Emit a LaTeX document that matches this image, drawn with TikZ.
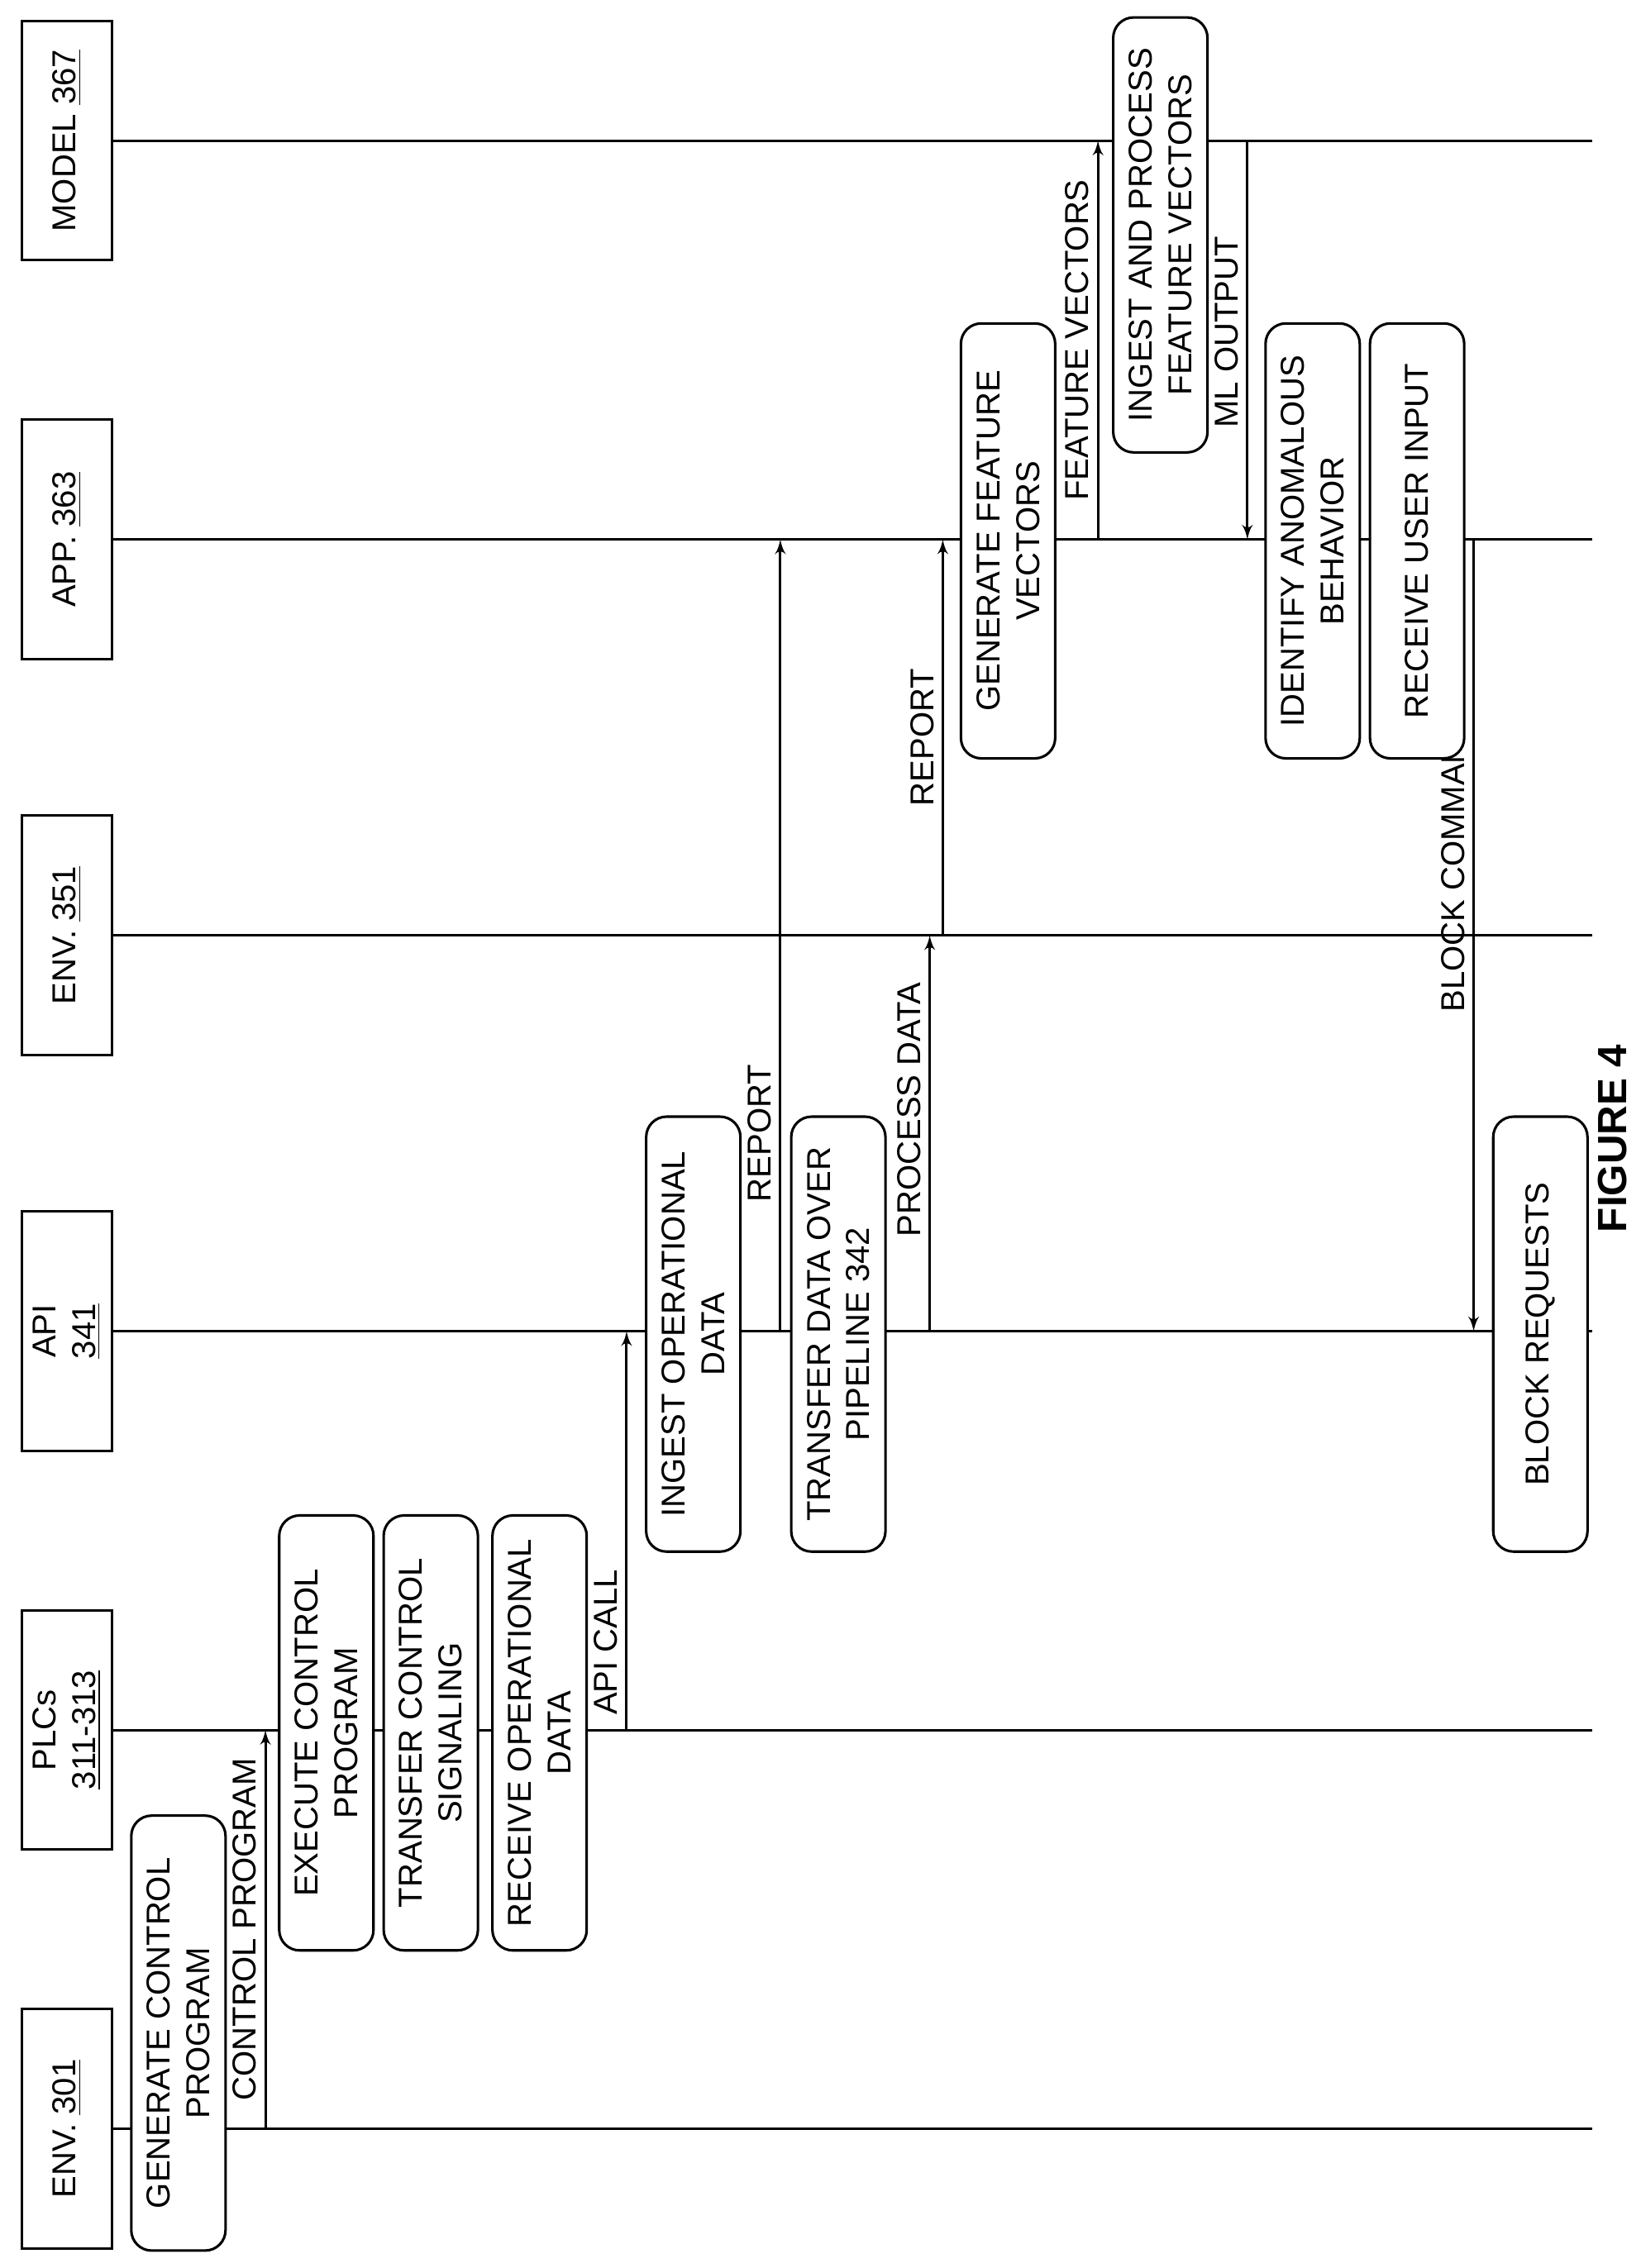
\documentclass[tikz,border=0pt]{standalone}
\usepackage{fontspec}
\setmainfont{Liberation Sans}
\usetikzlibrary{arrows,positioning,calc}
\tikzstyle{lifebox} = [draw, line width=1pt, fill=white, rectangle, rotate=90, align=center,
    minimum width=3.3cm, minimum height=1.24cm, inner sep=1pt]
\tikzstyle{actbox} = [draw, line width=1pt, fill=white, rectangle, rounded corners=8pt, rotate=90, align=center,
    minimum width=6cm, minimum height=1.3cm, inner sep=1pt]
\tikzstyle{msglabel} = [rotate=90, anchor=south, inner sep=3pt]
\tikzstyle{msg} = [->, line width=1pt]

\begin{document}
\begin{tikzpicture}[x=0.02cm, y=-0.02cm, >=latex', font=\fontsize{13}{15.5}\selectfont]
    \useasboundingbox (0,0) rectangle (1131,1564);

    % lifeline heads
    \node[lifebox] at (46,1468) (env301) {ENV. \underline{301}};
    \node[lifebox] at (46,1193) (plc) {PLCs\\\underline{311-313}};
    \node[lifebox] at (46,918) (api) {API\\\underline{341}};
    \node[lifebox] at (46,645) (env351) {ENV. \underline{351}};
    \node[lifebox] at (46,372) (app) {APP. \underline{363}};
    \node[lifebox] at (46,97) (model) {MODEL \underline{367}};

    \foreach \n/\y in {env301/1468, plc/1193, api/918, env351/645, app/372, model/97} {
        \coordinate (\n end) at (1098,\y);
        \draw[line width=1pt] (\n.south) -- (\n end);
    }

    % messages
    \coordinate (cp1) at (183,1468); \coordinate (cp2) at (183,1193);
    \coordinate (ac1) at (432,1193); \coordinate (ac2) at (432,918);
    \coordinate (ra1) at (538,918);  \coordinate (ra2) at (538,372);
    \coordinate (pd1) at (641,918);  \coordinate (pd2) at (641,645);
    \coordinate (rb1) at (650,645);  \coordinate (rb2) at (650,372);
    \coordinate (fv1) at (757,372);  \coordinate (fv2) at (757,97);
    \coordinate (ml1) at (860,97);   \coordinate (ml2) at (860,372);
    \coordinate (bc1) at (1016,372); \coordinate (bc2) at (1016,918);

    \draw[msg] (cp1) -- (cp2) node[msglabel, pos=0.5] {CONTROL PROGRAM};
    \draw[msg] (ac1) -- (ac2) node[msglabel, pos=0.22] {API CALL};
    \draw[msg] (ra1) -- (ra2) node[msglabel, pos=0.25] {REPORT};
    \draw[msg] (pd1) -- (pd2) node[msglabel, pos=0.56] {PROCESS DATA};
    \draw[msg] (rb1) -- (rb2) node[msglabel, pos=0.5] {REPORT};
    \draw[msg] (fv1) -- (fv2) node[msglabel, pos=0.5] {FEATURE VECTORS};
    \draw[msg] (ml1) -- (ml2) node[msglabel, pos=0.48] {ML OUTPUT};
    \draw[msg] (bc1) -- (bc2) node[msglabel, pos=0.41] {BLOCK COMMAND};

    % activities
    \node[actbox] at (123,1402) (gencp) {GENERATE CONTROL\\PROGRAM};
    \node[actbox] at (225,1195) (execcp) {EXECUTE CONTROL\\PROGRAM};
    \node[actbox] at (297,1195) (transcs) {TRANSFER CONTROL\\SIGNALING};
    \node[actbox] at (372,1195) (recvod) {RECEIVE OPERATIONAL\\DATA};
    \node[actbox] at (478,920) (ingod) {INGEST OPERATIONAL\\DATA};
    \node[actbox] at (578,920) (transpipe) {TRANSFER DATA OVER\\PIPELINE 342};
    \node[actbox] at (1062,920) (blockreq) {BLOCK REQUESTS};
    \node[actbox] at (695,373) (genfv) {GENERATE FEATURE\\VECTORS};
    \node[actbox] at (905,373) (identab) {IDENTIFY ANOMALOUS\\BEHAVIOR};
    \node[actbox] at (977,373) (recvui) {RECEIVE USER INPUT};
    \node[actbox] at (800,162) (ingfv) {INGEST AND PROCESS\\FEATURE VECTORS};

    \node[rotate=90, font=\fontsize{16}{18}\selectfont\bfseries] at (1112,785) (fig) {FIGURE 4};
\end{tikzpicture}
\end{document}
